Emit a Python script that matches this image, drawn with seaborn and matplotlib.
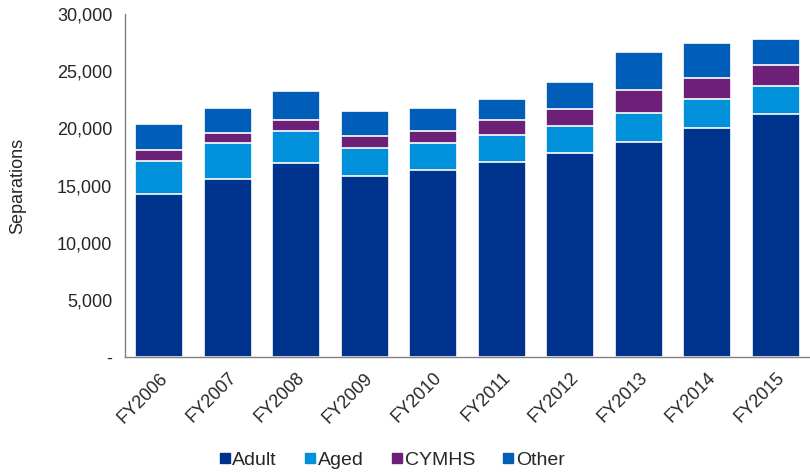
import matplotlib
matplotlib.use("Agg")
import matplotlib.pyplot as plt
import seaborn as sns
import numpy as np
import pandas as pd
from matplotlib.lines import Line2D
from matplotlib.ticker import FuncFormatter

years = ["FY2006", "FY2007", "FY2008", "FY2009", "FY2010",
         "FY2011", "FY2012", "FY2013", "FY2014", "FY2015"]
adult = [14240, 15560, 17010, 15850, 16340, 17040, 17830, 18820, 20040, 21260]
aged = [2890, 3140, 2800, 2410, 2360, 2360, 2390, 2500, 2510, 2420]
cymhs = [990, 930, 900, 1050, 1110, 1310, 1480, 2010, 1860, 1840]
other = [2300, 2160, 2540, 2190, 1980, 1860, 2330, 3320, 3060, 2300]

series = ["Adult", "Aged", "CYMHS", "Other"]
colors = {"Adult": "#00338D", "Aged": "#0091DA", "CYMHS": "#6D2077", "Other": "#005EB8"}

df = pd.DataFrame({"year": years, "Adult": adult, "Aged": aged,
                   "CYMHS": cymhs, "Other": other})
cum = df[series].cumsum(axis=1)

sns.set_style("white")
plt.rcParams["font.family"] = ["Liberation Sans", "DejaVu Sans"]

fig = plt.figure(figsize=(8.1, 4.72), dpi=100)
ax = fig.add_axes([0.154, 0.2436, 0.846, 0.7267])

# stacked bars: draw cumulative totals from the top down
for s in reversed(series):
    sns.barplot(x=df["year"], y=cum[s], color=colors[s], width=0.7,
                edgecolor="white", linewidth=1.2, saturation=1, ax=ax)

ax.set_ylim(0, 30000)
ax.set_xlim(-0.5, 9.5)
ax.set_yticks(range(0, 30001, 5000))
ax.yaxis.set_major_formatter(FuncFormatter(lambda v, p: "-" if v == 0 else f"{v:,.0f}"))
ax.set_ylabel("Separations", fontsize=13, labelpad=22)
ax.set_xlabel("")

ax.set_xticks(range(len(years)))
ax.set_xticklabels(years, rotation=45, ha="right", rotation_mode="anchor", fontsize=13)
ax.set_xticks(np.arange(-0.5, 10, 1), minor=True)
ax.tick_params(axis="x", which="major", length=0, pad=9)
ax.tick_params(axis="x", which="minor", length=5, color="#808080", width=1, direction="out")
ax.tick_params(axis="y", length=5, color="#808080", width=1, direction="out", labelsize=13, pad=4)

for side in ["top", "right"]:
    ax.spines[side].set_visible(False)
for side in ["left", "bottom"]:
    ax.spines[side].set_color("#808080")
    ax.spines[side].set_linewidth(1)

handles = [Line2D([0], [0], marker="s", linestyle="", markersize=7,
                  markerfacecolor=colors[s], markeredgecolor=colors[s], label=s)
           for s in series]
fig.legend(handles=handles, loc="lower center", bbox_to_anchor=(0.48, -0.03),
           ncol=4, frameon=False, fontsize=14, handletextpad=-0.2, columnspacing=1.1,
           handlelength=1.2)

fig.savefig("out.png", dpi=100)
